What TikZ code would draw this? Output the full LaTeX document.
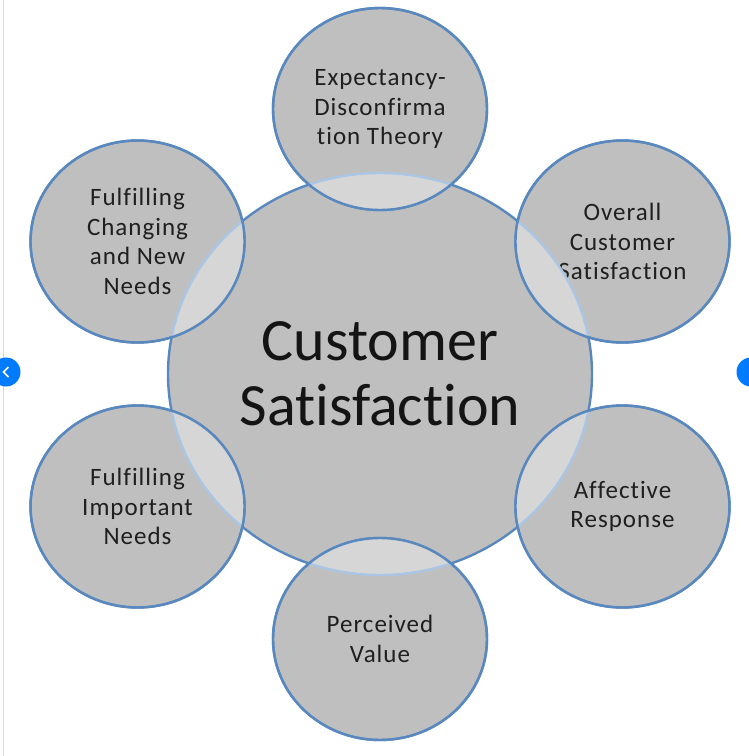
\documentclass[tikz,border=0pt]{standalone}
\usepackage{fontspec}
\setmainfont{Carlito}[RawFeature={-liga;-clig;-dlig;-calt}]
\newfontfamily\satfont{Carlito}[LetterSpace=4,RawFeature={-liga;-clig;-dlig;-calt}]
\usetikzlibrary{calc,shapes.geometric}

\definecolor{ringblue}{RGB}{88,136,190}
\definecolor{paleblue}{RGB}{170,198,228}
\definecolor{discgray}{RGB}{191,191,191}
\definecolor{overlapgray}{RGB}{214,214,214}
\definecolor{navblue}{RGB}{0,122,255}

\begin{document}
\begin{tikzpicture}[
x=1pt, y=-1pt,
core/.style={ellipse, draw=ringblue, line width=2.4pt, fill=discgray, inner sep=0pt,
  minimum width=424pt, minimum height=402pt, align=center, text=black!92,
  font=\fontsize{60}{65}\selectfont},
sat/.style={ellipse, draw=ringblue, line width=2.4pt, fill=discgray, inner sep=0pt,
  minimum width=214pt, minimum height=202pt, align=center, text=black!88,
  font=\satfont\fontsize{25}{29.5}\selectfont},
rim/.style={draw=ringblue, line width=2.4pt},
navdot/.style={circle, fill=navblue, minimum size=29pt, inner sep=0pt}
]
\useasboundingbox (0,0) rectangle (748,756);
\fill[white] (0,0) rectangle (748,756);
\draw[black!15, line width=1pt] (3,0) -- (3,756);

\node[core] (core) at (380,374) {Customer\\Satisfaction};

\foreach \ang/\nm/\txt in {
  270/expect/{Expectancy-\\Disconfirma\\tion Theory},
  330/overall/{Overall\\Customer\\Satisfaction},
  30/affect/{Affective\\Response},
  90/value/{Perceived\\Value},
  150/important/{Fulfilling\\Important\\Needs},
  210/changing/{Fulfilling\\Changing\\and New\\Needs}}
  \node[sat] (\nm) at ($(core.center)+(\ang:280 and 265)$) {\txt};

\foreach \nm in {expect,overall,affect,value,important,changing} {
  \begin{scope}
    \clip (core.center) ellipse (212 and 201);
    \fill[overlapgray] (\nm.center) ellipse (107 and 101);
  \end{scope}
  \begin{scope}
    \clip (\nm.center) ellipse (107 and 101);
    \draw[paleblue, line width=2.4pt] (core.center) ellipse (212 and 201);
  \end{scope}
  \draw[rim] (\nm.center) ellipse (107 and 101);
}

\node[navdot] (prev) at (6,372) {};
\draw[white, line width=1.5pt] ($(prev.center)+(2.5,-5)$) -- ++(-5,5) -- ++(5,5);
\node[navdot] (next) at (751,372) {};

\end{tikzpicture}
\end{document}
